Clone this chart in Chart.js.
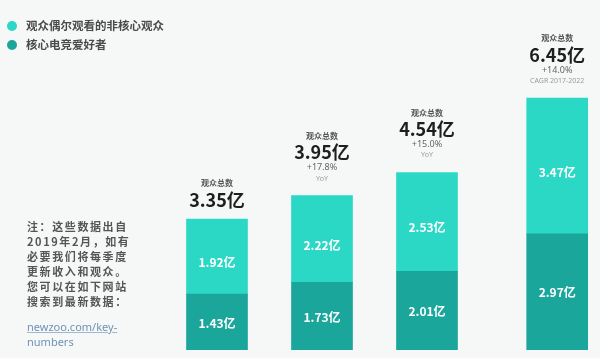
<!DOCTYPE html>
<html>
<head>
<meta charset="utf-8">
<script src="https://cdn.jsdelivr.net/npm/chart.js@4/dist/chart.umd.min.js"></script>
<style>
  html,body{margin:0;padding:0;background:#f6f8f8;}
  #wrap{position:relative;width:600px;height:358px;overflow:hidden;background:#f6f8f8;font-family:"Noto Sans CJK SC","Noto Sans",sans-serif;}
  canvas{position:absolute;left:0;top:0;}
  .legend{position:absolute;left:7px;top:16px;font-size:11.5px;color:#4a4a4a;font-weight:bold;}
  .legend div{height:19px;line-height:19px;display:flex;align-items:center;}
  .legend span.dot{display:inline-block;width:10px;height:10px;border-radius:50%;margin-right:9px;}
  .note{position:absolute;left:27px;top:219px;font-size:11px;line-height:15px;color:#555;letter-spacing:1.6px;font-weight:bold;}
  .link{position:absolute;left:27px;top:319px;font-size:11px;line-height:15px;color:#6f93b5;font-family:"Noto Sans",sans-serif;}
  .link u{text-decoration-color:#9fb8cf;}
</style>
</head>
<body>
<div id="wrap">
  <canvas id="c" width="600" height="358"></canvas>
  <div class="legend" id="legend"></div>
  <div class="note">注：这些数据出自<br>2019年2月，如有<br>必要我们将每季度<br>更新收入和观众。<br>您可以在如下网站<br>搜索到最新数据：</div>
  <div class="link"><u>newzoo.com/key-</u><br>numbers</div>
</div>
<script>
// ---- data ----
const categories = ['2017', '2018', '2019', '2022'];
const coreEnthusiasts = [1.43, 1.73, 2.01, 2.97];   // 核心电竞爱好者
const occasionalViewers = [1.92, 2.22, 2.53, 3.47]; // 观众偶尔观看的非核心观众
const totals = [3.35, 3.95, 4.54, 6.45];
const growthLabels = ['', '+17.8%', '+15.0%', '+14.0%'];
const growthNotes = ['', 'YoY', 'YoY', 'CAGR 2017-2022'];
const seriesNames = ['观众偶尔观看的非核心观众', '核心电竞爱好者'];

// ---- layout (slot positions on hidden x axis) ----
const slotPos = [0, 1, 2, 3.24];
const colLight = '#2bd8c6';
const colDark = '#1aa69b';

const legendEl = document.getElementById('legend');
[[seriesNames[0], colLight], [seriesNames[1], colDark]].forEach(([n, c]) => {
  const d = document.createElement('div');
  d.innerHTML = '<span class="dot" style="background:' + c + '"></span>' + n;
  legendEl.appendChild(d);
});

const labelPlugin = {
  id: 'labels',
  afterDatasetsDraw(chart) {
    const ctx = chart.ctx;
    const m0 = chart.getDatasetMeta(0), m1 = chart.getDatasetMeta(1);
    ctx.save();
    ctx.textAlign = 'center';
    ctx.textBaseline = 'middle';
    categories.forEach((cat, i) => {
      const b0 = m0.data[i], b1 = m1.data[i];
      const x = b1.x;
      // inside labels
      ctx.fillStyle = '#ffffff';
      ctx.font = 'bold 12px "Noto Sans CJK SC", "Noto Sans", sans-serif';
      ctx.fillText(coreEnthusiasts[i] + '亿', x, (b0.y + b0.base) / 2 + 1);
      ctx.fillText(occasionalViewers[i].toFixed(2) + '亿', x, (b1.y + b1.base) / 2 + 6);
      // above labels
      const top = b1.y;
      const hasSub = growthLabels[i] !== '';
      const numY = hasSub ? top - 43 : top - 19;
      ctx.fillStyle = '#555';
      ctx.font = 'bold 8px "Noto Sans CJK SC", sans-serif';
      ctx.fillText('观众总数', x, numY - 17);
      ctx.fillStyle = '#1e1e1e';
      ctx.font = 'bold 18px "Noto Sans CJK SC", "Noto Sans", sans-serif';
      ctx.fillText(totals[i].toFixed(2) + '亿', x, numY);
      if (hasSub) {
        ctx.fillStyle = '#666';
        ctx.font = '9px "Noto Sans", sans-serif';
        ctx.fillText(growthLabels[i], x, top - 28);
        ctx.fillStyle = '#999';
        ctx.font = '7px "Noto Sans", sans-serif';
        ctx.fillText(growthNotes[i], x, top - 17);
      }
    });
    ctx.restore();
  }
};

new Chart(document.getElementById('c'), {
  type: 'bar',
  data: {
    datasets: [
      { label: seriesNames[1], data: coreEnthusiasts.map((v, i) => ({ x: slotPos[i], y: v })), backgroundColor: colDark, barThickness: 61 },
      { label: seriesNames[0], data: occasionalViewers.map((v, i) => ({ x: slotPos[i], y: v })), backgroundColor: colLight, barThickness: 61 }
    ]
  },
  options: {
    responsive: false,
    animation: false,
    layout: { padding: { left: 0, right: 0, top: 0, bottom: 8 } },
    plugins: { legend: { display: false }, tooltip: { enabled: false } },
    scales: {
      x: { type: 'linear', stacked: true, display: false, offset: false, bounds: 'ticks', min: -217 / 105, max: (600 - 217) / 105 },
      y: { stacked: true, display: false, min: 0, max: 8.95 }
    }
  },
  plugins: [labelPlugin]
});
</script>
</body>
</html>
